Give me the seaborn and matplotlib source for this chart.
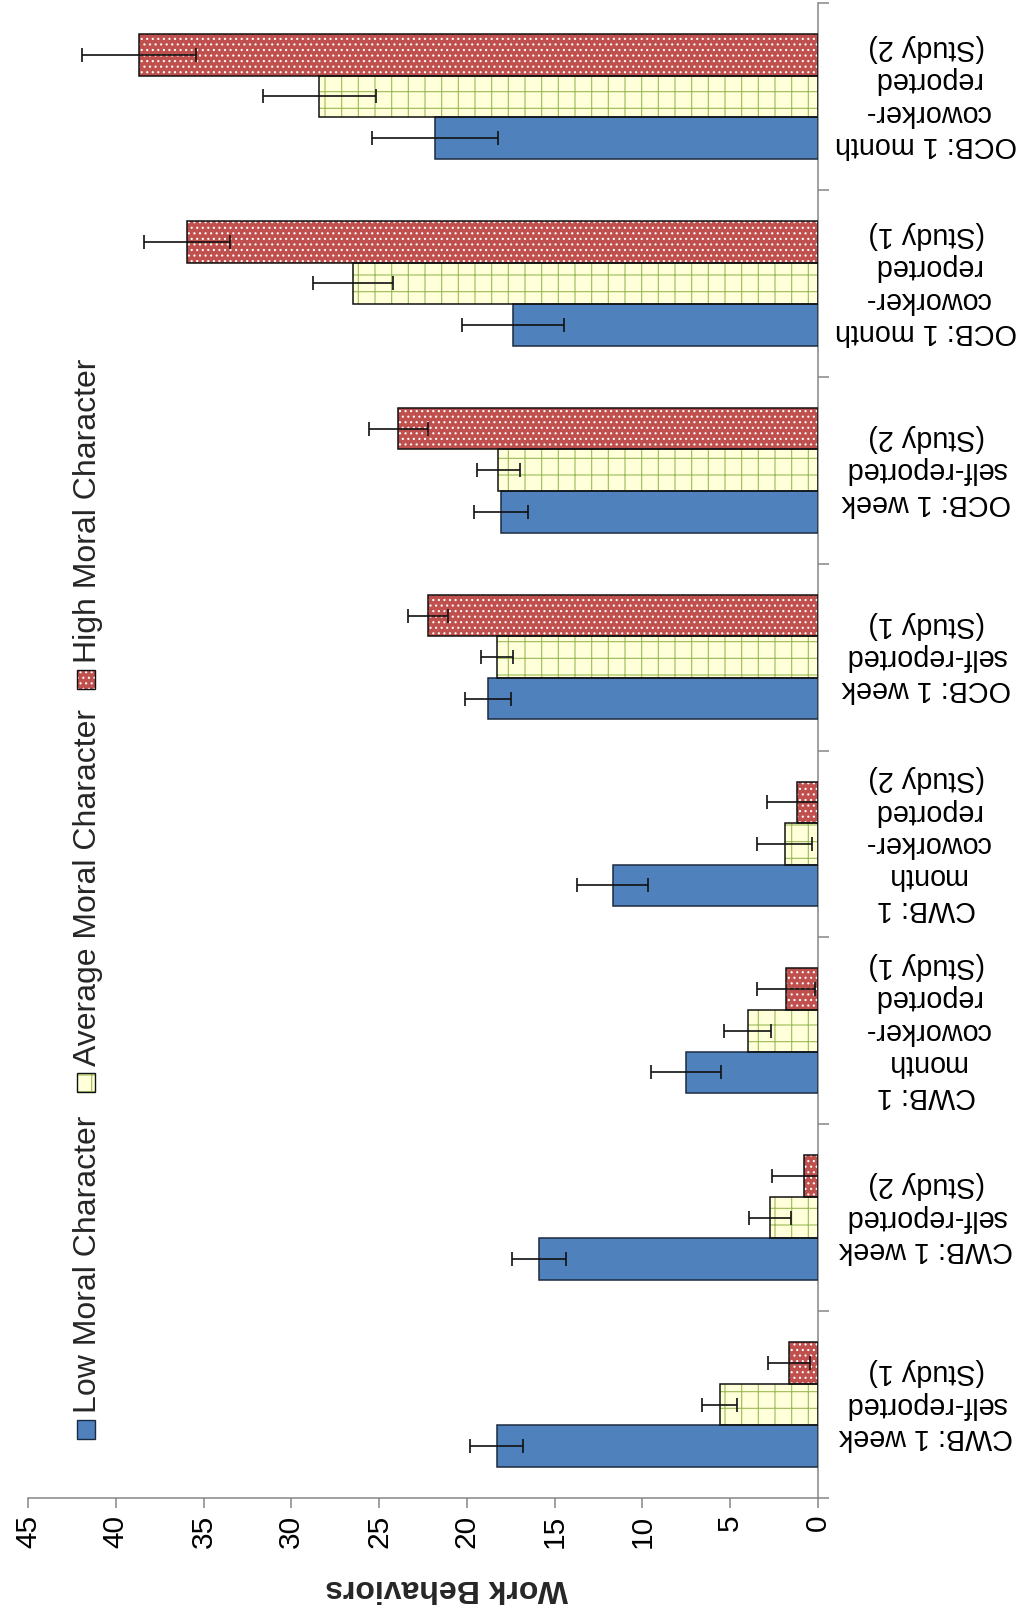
import matplotlib
matplotlib.use('Agg')
import matplotlib.pyplot as plt
import seaborn as sns
import pandas as pd
import numpy as np
from matplotlib.patches import Rectangle

# ---------------- data ----------------
categories = [
    "CWB: 1 week\nself-reported\n(Study 1)",
    "CWB: 1 week\nself-reported\n(Study 2)",
    "CWB: 1\nmonth\ncoworker-\nreported\n(Study 1)",
    "CWB: 1\nmonth\ncoworker-\nreported\n(Study 2)",
    "OCB: 1 week\nself-reported\n(Study 1)",
    "OCB: 1 week\nself-reported\n(Study 2)",
    "OCB: 1 month\ncoworker-\nreported\n(Study 1)",
    "OCB: 1 month\ncoworker-\nreported\n(Study 2)",
]
groups = ["Low Moral Character", "Average Moral Character", "High Moral Character"]
low_vals = [18.3, 15.9, 7.5, 11.7, 18.8, 18.05, 17.35, 21.8]
avg_vals = [5.6, 2.75, 4.0, 1.9, 18.3, 18.2, 26.5, 28.4]
high_vals = [1.65, 0.8, 1.8, 1.2, 22.2, 23.9, 35.95, 38.7]
low_err = [1.5, 1.55, 2.0, 2.0, 1.3, 1.53, 2.9, 3.6]
avg_err = [1.0, 1.2, 1.35, 1.55, 0.92, 1.2, 2.27, 3.2]
high_err = [1.2, 1.8, 1.65, 1.7, 1.15, 1.7, 2.45, 3.25]
value_ticks = [0, 5, 10, 15, 20, 25, 30, 35, 40, 45]
x_label = "Work Behaviors"

vals = [low_vals, avg_vals, high_vals]
errs = [low_err, avg_err, high_err]

# ---------------- styles ----------------
fills = ["#4F81BD", "#FFFFD9", "#C0504D"]
hatch_cols = [None, "#9BBB59", "#FFFFFF"]
hatches = [None, "+", "..."]
edge_cols = ["#1b2a40", "#111111", "#111111"]
spine_col = "#868686"

sns.set_theme(style="white")
plt.rcParams['font.family'] = ['Liberation Sans', 'DejaVu Sans']
plt.rcParams['hatch.linewidth'] = 0.8

W, H = 1024, 1618
fig = plt.figure(figsize=(W / 100, H / 100), dpi=100)
fig.patch.set_facecolor('white')
ax = fig.add_axes([28 / W, 120 / H, 790 / W, 1495 / H])

df = pd.DataFrame({
    "Category": [c for g in groups for c in categories],
    "Group": [g for g in groups for c in categories],
    "Value": [v for vs in vals for v in vs],
})

sns.barplot(data=df, x="Value", y="Category", hue="Group", order=categories,
            hue_order=groups, palette=fills, saturation=1, width=0.667,
            orient="h", errorbar=None, legend=False, ax=ax, zorder=2)

bar_containers = list(ax.containers)

# style bars: hatch layer + black outline
for i, cont in enumerate(bar_containers):
    for p in cont.patches:
        if hatches[i]:
            p.set_hatch(hatches[i])
            p.set_edgecolor(hatch_cols[i])
            p.set_linewidth(0)
        else:
            p.set_edgecolor(fills[i])
            p.set_linewidth(0)
        ax.add_patch(Rectangle(p.get_xy(), p.get_width(), p.get_height(),
                               fill=False, edgecolor=edge_cols[i], lw=1.1, zorder=3))

# error bars
for i, cont in enumerate(bar_containers):
    ys = [p.get_y() + p.get_height() / 2 for p in cont.patches]
    xs = [p.get_x() + p.get_width() for p in cont.patches]
    ax.errorbar(xs, ys, xerr=errs[i], fmt='none', ecolor='#111111',
                elinewidth=1.2, capsize=4.7, capthick=1.2, zorder=5)

ax.set_xlim(45, 0)
ax.set_ylim(-0.5, 7.5)
ax.set_xlabel("")
ax.set_ylabel("")

for s in ["top", "left"]:
    ax.spines[s].set_visible(False)
for s in ["right", "bottom"]:
    ax.spines[s].set_visible(True)
    ax.spines[s].set_color(spine_col)
    ax.spines[s].set_linewidth(1.1)

# value axis
ax.set_xticks(value_ticks)
ax.set_xticklabels([str(v) for v in value_ticks], rotation=90, fontsize=21.5,
                   color='black')
ax.tick_params(axis='x', which='major', bottom=True, length=7, width=1.1,
               color=spine_col, pad=5, direction='out')

# category axis
ax.yaxis.tick_right()
ax.tick_params(axis='y', which='major', length=0, pad=78)
ax.set_yticks(np.arange(-0.5, 8, 1), minor=True)
ax.tick_params(axis='y', which='minor', right=True, left=False, length=8,
               width=1.1, color=spine_col, direction='out')
ax.set_yticks(range(len(categories)))
ax.set_yticklabels(categories, rotation=180, ha='center', va='center',
                   fontsize=20.7, color='black', linespacing=1.2)
ax.grid(False)

# axis title (upside-down)
fig.text(447 / W, 1 - 1588 / H, x_label, rotation=180, fontweight='bold',
         fontsize=23, ha='center', va='center')

# legend (rotated)
marker_top = [1420, 1073, 670]
text_bottom = [1413, 1066, 663]
for i, g in enumerate(groups):
    y0 = 1 - (marker_top[i] + 19) / H
    if hatches[i]:
        fig.add_artist(Rectangle((77 / W, y0), 18 / W, 19 / H, transform=fig.transFigure,
                                 facecolor=fills[i], edgecolor=hatch_cols[i], lw=0,
                                 hatch=hatches[i]))
    else:
        fig.add_artist(Rectangle((77 / W, y0), 18 / W, 19 / H, transform=fig.transFigure,
                                 facecolor=fills[i], edgecolor=fills[i], lw=0))
    fig.add_artist(Rectangle((77 / W, y0), 18 / W, 19 / H, transform=fig.transFigure,
                             fill=False, edgecolor=edge_cols[i], lw=1.0))
    fig.text(88 / W, 1 - text_bottom[i] / H, g, rotation=90, ha='center',
             va='bottom', fontsize=23)

fig.savefig("out.png", dpi=100, facecolor='white')
